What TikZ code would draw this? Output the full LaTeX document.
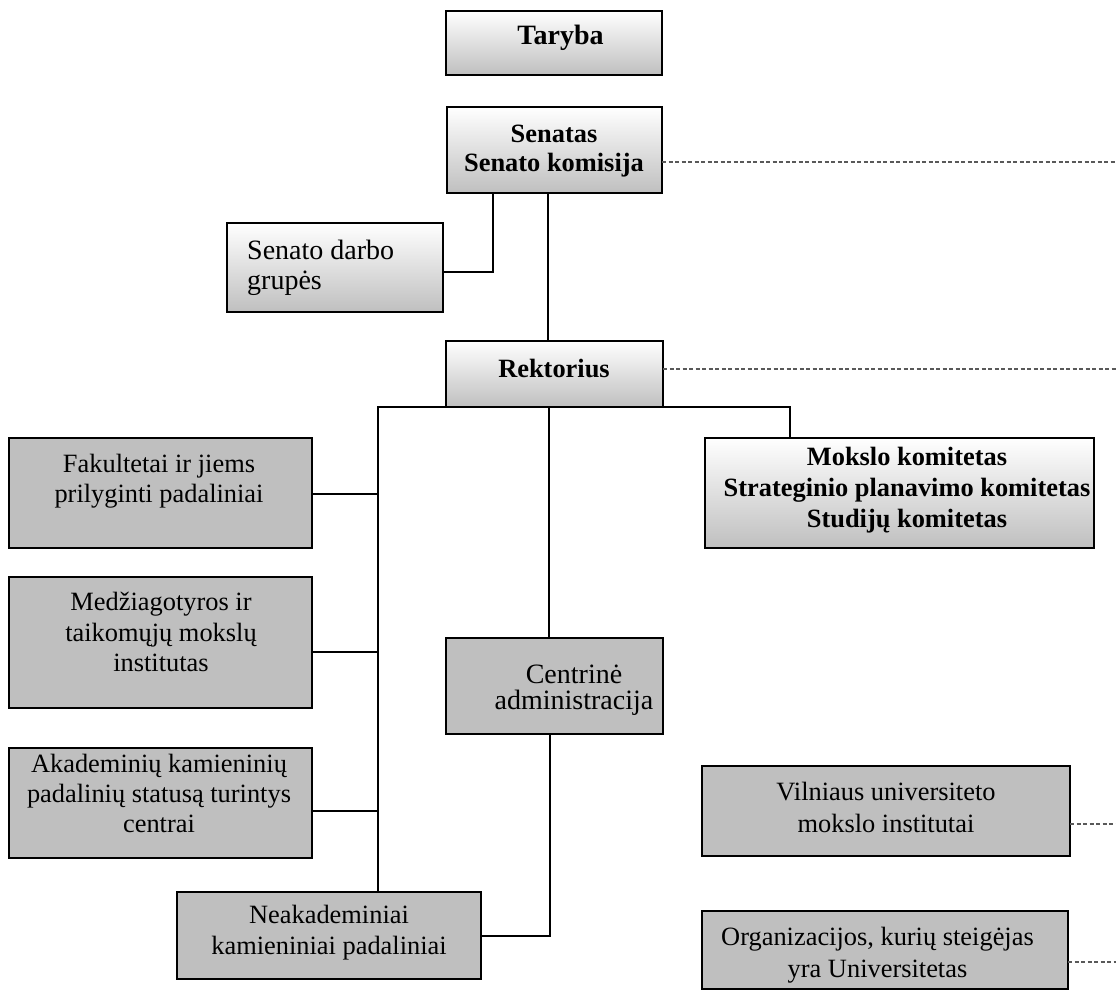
\documentclass[tikz,border=0pt]{standalone}
\usepackage{fontspec}
\setmainfont{Liberation Serif}
\begin{document}
\begin{tikzpicture}[x=1pt,y=-1pt,
  gbox/.style={draw=black,line width=1.5pt,top color=white,bottom color=gray!50,minimum width=#1,inner sep=0pt,outer sep=0pt},
  fbox/.style={draw=black,line width=1.5pt,fill=gray!50,minimum width=#1,inner sep=0pt,outer sep=0pt},
  conn/.style={draw=black,line width=1.4pt},
  dconn/.style={draw=black!65,line width=1.3pt,dash pattern=on 4pt off 2.5pt},
  txt/.style={inner sep=0pt,anchor=base,align=center,font=\fontsize{26.4}{#1}\selectfont},
  btxt/.style={inner sep=0pt,anchor=base,align=center,font=\fontsize{26.4}{#1}\selectfont\bfseries},
]
\useasboundingbox (0,0) rectangle (1116,992);
% boxes
\node[gbox=216pt,minimum height=64pt] (taryba) at (554,43) {};
\node[gbox=215pt,minimum height=86pt] (senatas) at (554.5,150) {};
\node[gbox=216pt,minimum height=89pt] (darbo) at (335,267.5) {};
\node[gbox=217pt,minimum height=66pt] (rektorius) at (554.5,374) {};
\node[gbox=389pt,minimum height=110pt] (mokslo) at (899.5,493) {};
\node[fbox=303pt,minimum height=110pt] (fak) at (160.5,493) {};
\node[fbox=303pt,minimum height=131pt] (medz) at (160.5,642.5) {};
\node[fbox=303pt,minimum height=110pt] (akad) at (160.5,803) {};
\node[fbox=304pt,minimum height=87pt] (neak) at (329,935.5) {};
\node[fbox=217pt,minimum height=96pt] (centr) at (554.5,686) {};
\node[fbox=368pt,minimum height=90pt] (viln) at (886,811) {};
\node[fbox=366pt,minimum height=78pt] (org) at (885,950) {};
% texts (anchor = baseline of last line)
\node[inner sep=0pt,anchor=base,font=\fontsize{28}{30}\selectfont\bfseries] (tarybaT) at (560.5,45) {Taryba};
\node[btxt=29] (senatasT) at (554,172) {Senatas\\Senato komisija};
\node[inner sep=0pt,anchor=base west,align=left,font=\fontsize{28}{30}\selectfont] (darboT) at (247,290) {Senato darbo\\grup\.es};
\node[btxt=30] (rektoriusT) at (554,377) {Rektorius};
\node[btxt=31] (moksloT) at (907,527.7) {Mokslo komitetas\\Strateginio planavimo komitetas\\Studijų komitetas};
\node[txt=30] (fakT) at (159,502) {Fakultetai ir jiems\\prilyginti padaliniai};
\node[txt=30.5] (medzT) at (161,671.7) {Medžiagotyros ir\\taikomųjų mokslų\\institutas};
\node[txt=30] (akadT) at (159,832) {Akademinių kamieninių\\padalinių statusą turintys\\centrai};
\node[txt=31.5] (neakT) at (329,954.5) {Neakademiniai\\kamieniniai padaliniai};
\node[inner sep=0pt,anchor=base,align=center,font=\fontsize{28}{26.7}\selectfont] (centrT) at (574,709.7) {Centrinė\\administracija};
\node[txt=32] (vilnT) at (886,832) {Vilniaus universiteto\\mokslo institutai};
\node[txt=32] (orgT) at (877.5,977) {Organizacijos, kurių steigėjas\\yra Universitetas};
% helper coordinates
\coordinate (c1) at (493,272);
\coordinate (sx) at (548,0);
\coordinate (cx) at (549,0);
\coordinate (d1) at (1116,162);
\coordinate (d2) at (1116,369);
\coordinate (d3) at (1116,824);
\coordinate (d4) at (1116,962);
\coordinate (L) at (378,407);
\coordinate (R) at (790,407);
\coordinate (C) at (550,936);
% connectors
\draw[conn] (c1 |- senatas.south) -- (c1) -- (c1 -| darbo.east);
\draw[conn] (sx |- senatas.south) -- (sx |- rektorius.north);
\draw[dconn] (d1 -| senatas.east) -- (d1);
\draw[dconn] (d2 -| rektorius.east) -- (d2);
\draw[conn] (rektorius.south west) -- (L) -- (L |- neak.north);
\draw[conn] (rektorius.south) -- (R) -- (R |- mokslo.north);
\draw[conn] ([yshift=-1pt]fak.east) -- ([yshift=-1pt]fak.east -| L);
\draw[conn] ([yshift=-9.5pt]medz.east) -- ([yshift=-9.5pt]medz.east -| L);
\draw[conn] ([yshift=-8pt]akad.east) -- ([yshift=-8pt]akad.east -| L);
\draw[conn] (cx |- rektorius.south) -- (cx |- centr.north);
\draw[conn] (C |- centr.south) -- (C) -- (C -| neak.east);
\draw[dconn] (d3 -| viln.east) -- (d3);
\draw[dconn] (d4 -| org.east) -- (d4);
\end{tikzpicture}
\end{document}
